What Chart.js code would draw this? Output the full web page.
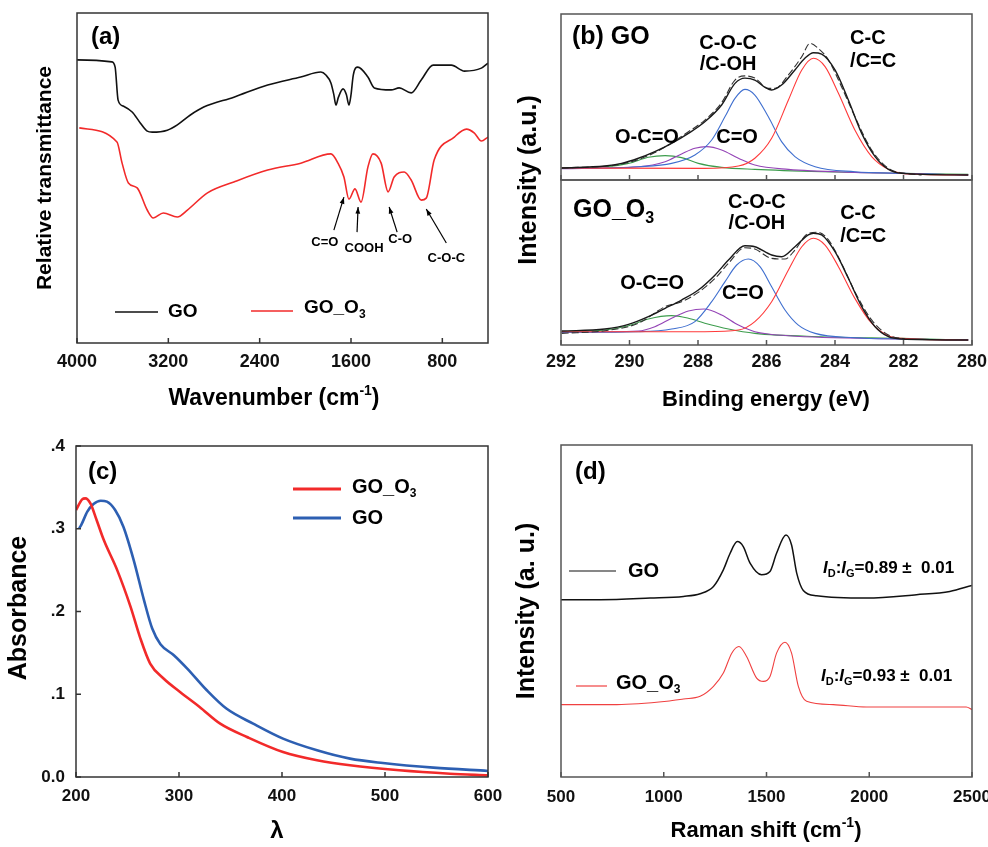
<!DOCTYPE html>
<html><head><meta charset="utf-8">
<script src="https://cdn.jsdelivr.net/npm/chart.js@4.4.0/dist/chart.umd.min.js"></script>
<style>
html,body{margin:0;padding:0;background:#fff;}
#wrap{position:relative;width:988px;height:847px;overflow:hidden;background:#fff;}
canvas{position:absolute;left:0;top:0;}
</style></head><body>
<div id="wrap">
<canvas id="ca" width="988" height="847"></canvas>
<canvas id="cbt" width="988" height="847"></canvas>
<canvas id="cbb" width="988" height="847"></canvas>
<canvas id="cc" width="988" height="847"></canvas>
<canvas id="cd" width="988" height="847"></canvas>
</div>
<script>
// ================= DATA =================
// (a) FTIR: wavenumber (cm-1) and relative transmittance (a.u.)
const A_XTICKS = [4000, 3200, 2400, 1600, 800];
const A_WN_GO = [4000,3695,3666,3640,3595,3517,3446,3385,3341,3209,3121,3007,2890,2626,2330,2040,1864,1820,1776,1750,1732,1710,1670,1640,1618,1600,1580,1540,1452,1396,1249,1178,1073,985,880,721,607,458,400];
const A_T_GO  = [85.8,85.2,83.6,73.6,71.8,70.0,66.7,64.2,63.9,64.5,66.1,69.1,71.5,74.5,78.2,80.6,82.1,81.2,78.8,75.2,72.1,74.5,77.0,75.2,72.1,75.2,81.2,83.6,80.6,77.3,76.7,77.3,75.8,79.7,84.2,84.2,82.4,83.3,84.8];
const A_WN_O3 = [3980,3650,3605,3550,3473,3385,3332,3244,3121,3033,2857,2626,2330,2040,1776,1714,1662,1618,1565,1512,1452,1408,1336,1275,1222,1134,1073,985,941,871,695,589,519,458,400];
const A_T_O3  = [65.2,60.9,54.5,48.5,47.0,40.3,37.9,39.4,38.2,40.3,45.5,48.8,52.4,54.5,57.3,54.5,50.3,43.6,46.7,42.7,53.3,57.3,54.5,45.8,50.3,51.8,49.4,43.3,43.9,55.5,62.4,64.8,63.6,61.2,62.4];

// (b) XPS C1s: binding energy (eV) and intensity (a.u.)
const B_XTICKS = [292, 290, 288, 286, 284, 282, 280];
// GO (top)
const BT_E_DATA = [291.98,290.23,289.26,288.28,287.80,287.31,286.92,286.63,286.34,285.95,285.75,285.36,284.97,284.73,284.49,284.19,283.81,283.42,282.93,282.44,281.96,281.47];
const BT_V_DATA = [7.2,9.6,16.5,29.1,36.1,46.6,60.2,62.7,61.4,55.2,55.2,63.3,74.3,82.3,79.3,72.3,56.2,38.2,18.1,7.0,4.0,3.0];
const BT_E_FIT = [291.98,290.72,290.23,289.74,289.26,288.77,288.28,287.80,287.31,286.92,286.63,286.34,286.04,285.85,285.56,285.17,284.88,284.63,284.39,284.00,283.61,283.22,282.83,282.44,282.05,280.11];
const BT_V_FIT = [7.2,8.4,10.0,13.1,17.1,22.1,28.1,35.1,45.2,58.2,61.4,60.2,55.8,54.2,57.2,66.3,73.3,76.7,75.9,66.3,48.2,28.1,14.1,6.4,4.0,3.0];
const BT_E_CC = [291.98,287.80,286.82,286.34,285.85,285.36,284.97,284.63,284.29,283.90,283.42,282.93,282.44,282.05,281.47,280.11];
const BT_V_CC = [7.2,7.0,8.4,13.1,25.1,48.2,66.3,73.3,68.3,52.2,30.1,14.1,6.4,4.0,3.4,3.0];
const BT_E_COC = [291.98,289.74,288.77,288.09,287.60,287.21,286.92,286.63,286.34,285.95,285.56,285.17,284.58,283.42,282.05,280.11];
const BT_V_COC = [7.0,8.0,10.0,15.1,24.1,38.2,49.2,54.6,51.2,38.2,23.1,14.1,8.0,5.0,4.0,3.0];
const BT_E_CO = [291.98,289.74,288.96,288.48,288.09,287.75,287.31,286.82,286.34,285.36,283.42,282.05,280.11];
const BT_V_CO = [6.8,8.0,11.0,15.7,19.1,20.1,18.1,13.1,9.0,6.4,4.6,4.0,3.0];
const BT_E_OCO = [291.98,290.72,290.03,289.45,288.96,288.48,287.99,287.31,286.34,284.39,282.05,280.11];
const BT_V_OCO = [7.2,8.0,10.0,13.7,14.7,13.5,10.0,7.6,6.4,5.0,4.0,3.4];
// GO_O3 (bottom)
const BB_E_DATA = [291.98,290.72,289.74,288.96,288.48,287.99,287.50,287.11,286.63,286.34,285.85,285.46,285.17,284.78,284.49,284.19,283.81,283.42,282.93,282.44,281.96];
const BB_V_DATA = [7.0,8.6,13.1,23.1,26.1,31.7,40.2,49.2,58.6,57.8,52.2,51.8,57.2,67.3,67.9,63.3,49.2,32.1,15.1,6.0,3.6];
const BB_E_FIT = [291.98,290.72,290.03,289.45,288.96,288.48,287.99,287.50,287.11,286.63,286.34,285.85,285.56,285.17,284.78,284.63,284.39,284.00,283.61,283.22,282.83,282.44,282.05,280.11];
const BB_V_FIT = [8.4,9.6,12.4,17.1,22.1,27.1,33.1,42.2,51.2,59.8,59.2,54.2,53.2,59.2,66.3,67.3,66.3,56.2,40.2,23.1,11.0,5.0,3.6,3.0];
const BB_E_CC = [291.98,287.80,286.82,286.34,285.85,285.36,284.97,284.63,284.29,283.90,283.42,282.93,282.44,282.05,280.11];
const BB_V_CC = [8.0,8.0,9.0,14.1,26.1,45.2,59.2,64.3,60.2,47.2,28.1,13.1,5.6,4.0,3.0];
const BB_E_COC = [291.98,289.74,288.77,288.09,287.60,287.21,286.87,286.53,286.19,285.85,285.46,285.07,284.58,283.42,282.05,280.11];
const BB_V_COC = [7.6,8.0,9.6,14.1,26.1,38.2,48.2,51.8,47.2,35.1,21.1,12.0,7.0,4.4,3.6,3.0];
const BB_E_CO = [291.98,289.74,289.26,288.77,288.28,287.82,287.31,286.82,286.34,285.36,282.05,280.11];
const BB_V_CO = [7.6,8.4,11.0,16.1,20.5,21.7,18.1,12.0,8.0,5.6,3.6,3.0];
const BB_E_OCO = [291.98,290.72,290.03,289.45,288.77,288.28,287.80,287.11,286.34,284.39,282.05,280.11];
const BB_V_OCO = [8.0,9.0,11.6,15.7,17.7,16.1,13.1,9.6,7.0,5.0,4.0,3.0];

// (c) UV-vis: wavelength and absorbance
const C_XTICKS = [200, 300, 400, 500, 600];
const C_YTICKS = [0, 0.1, 0.2, 0.3, 0.4];
const C_YTICK_LABELS = ['0.0', '.1', '.2', '.3', '.4'];
const C_L_O3 = [200,206,209,214,220,227,240,253,262,272,285,301,320,340,366,401,434,466,514,563,600];
const C_A_O3 = [0.3226,0.3355,0.3367,0.3306,0.3105,0.2863,0.25,0.2056,0.1694,0.1371,0.119,0.1028,0.0847,0.0645,0.0484,0.0302,0.0202,0.0141,0.0081,0.004,0.002];
const C_L_GO = [203,205,211,217,224,230,238,246,256,266,274,282,295,308,327,346,372,401,434,466,498,547,600];
const C_A_GO = [0.3004,0.3044,0.3206,0.3298,0.3339,0.3327,0.3226,0.3024,0.2621,0.2137,0.1794,0.1605,0.1472,0.131,0.1048,0.0827,0.0645,0.0464,0.0323,0.0222,0.0169,0.0113,0.0073];

// (d) Raman: shift (cm-1) and intensity (a.u.)
const D_XTICKS = [500, 1000, 1500, 2000, 2500];
const D_S_GO = [500,691,934,1096,1177,1242,1290,1323,1358,1387,1420,1476,1517,1549,1595,1622,1647,1679,1744,1987,2230,2392,2500];
const D_I_GO = [53.4,53.4,53.9,54.4,55.2,57.4,62.4,67.4,70.9,69.4,64.4,60.9,61.9,67.4,72.9,69.9,61.4,56.2,54.6,53.9,54.9,55.9,57.7];
const D_S_O3 = [500,772,1015,1096,1177,1242,1290,1331,1366,1403,1452,1485,1517,1549,1590,1622,1655,1695,1825,1987,2230,2472,2500];
const D_I_O3 = [21.8,21.8,22.8,23.5,24.3,27.3,31.3,37.3,39.3,36.3,29.8,28.8,30.3,37.3,40.6,37.3,27.3,22.8,21.8,21.1,21.1,21.1,20.3];

// ================= DRAWING =================
const FONT = '"Liberation Sans", Arial, Helvetica, sans-serif';
Chart.defaults.font.family = FONT;
const CW = 988, CH = 847, XH = 40;
const RED = '#f22a2a', BLUE = '#2d5fb2';
const pts = (xs, ys) => xs.map((x, i) => ({x, y: ys[i]}));

function drawRich(ctx, parts, x, y, size, align, color, rot) {
  ctx.save();
  ctx.translate(x, y);
  if (rot) ctx.rotate(-Math.PI / 2);
  ctx.fillStyle = color || '#000';
  ctx.textBaseline = 'middle'; ctx.textAlign = 'left';
  const segs = parts.map(p => {
    const [t, k] = Array.isArray(p) ? p : [p, 'n'];
    const small = k === 'sub' || k === 'sup';
    const sz = small ? Math.round(size * 0.62) : size;
    const font = (k === 'i' ? 'italic ' : '') + 'bold ' + sz + 'px ' + FONT;
    ctx.font = font;
    return {t, font, w: ctx.measureText(t).width, dy: k === 'sub' ? size * 0.33 : (k === 'sup' ? -size * 0.36 : 0)};
  });
  const tw = segs.reduce((s, g) => s + g.w, 0);
  let cx = align === 'center' ? -tw / 2 : (align === 'right' ? -tw : 0);
  for (const g of segs) { ctx.font = g.font; ctx.fillText(g.t, cx, g.dy); cx += g.w; }
  ctx.restore();
}
function frame(c, color, lw, xt, yt) {
  const {ctx, chartArea: a} = c;
  ctx.save();
  ctx.strokeStyle = color; ctx.lineWidth = lw;
  ctx.strokeRect(a.left, a.top, a.right - a.left, a.bottom - a.top);
  ctx.beginPath();
  if (xt) for (const t of c.scales.x.ticks) { const p = c.scales.x.getPixelForValue(t.value); ctx.moveTo(p, a.bottom); ctx.lineTo(p, a.bottom - 5); }
  if (yt) for (const t of c.scales.y.ticks) { const p = c.scales.y.getPixelForValue(t.value); ctx.moveTo(a.left, p); ctx.lineTo(a.left + 5, p); }
  ctx.stroke();
  ctx.restore();
}
function seg(ctx, x1, y1, x2, y2, color, lw) {
  ctx.save(); ctx.strokeStyle = color; ctx.lineWidth = lw;
  ctx.beginPath(); ctx.moveTo(x1, y1); ctx.lineTo(x2, y2); ctx.stroke(); ctx.restore();
}
function arrow(ctx, x1, y1, x2, y2) {
  seg(ctx, x1, y1, x2, y2, '#000', 1.2);
  const ang = Math.atan2(y2 - y1, x2 - x1), h = 7;
  ctx.save(); ctx.fillStyle = '#000'; ctx.beginPath();
  ctx.moveTo(x2, y2);
  ctx.lineTo(x2 - h * Math.cos(ang - 0.35), y2 - h * Math.sin(ang - 0.35));
  ctx.lineTo(x2 - h * Math.cos(ang + 0.35), y2 - h * Math.sin(ang + 0.35));
  ctx.closePath(); ctx.fill(); ctx.restore();
}
function xAxis(min, max, ticks, o) {
  o = o || {};
  return {type: 'linear', min, max, reverse: !!o.reverse,
    grid: {display: false, drawTicks: false}, border: {display: false},
    ticks: {display: o.show !== false, autoSkip: false, maxRotation: 0, minRotation: 0,
      padding: (o.pad === undefined ? 8 : o.pad), color: '#111',
      font: {size: o.size || 18, weight: 'bold', family: FONT},
      callback: (v, i) => (o.labels ? o.labels[i] : String(v))},
    afterBuildTicks: s => { s.ticks = ticks.map(v => ({value: v})); },
    afterFit: s => { s.height = XH; s.paddingLeft = 0; s.paddingRight = 0; }};
}
function yAxis(min, max, ticks, o) {
  o = o || {};
  const w = o.width || 30;
  return {type: 'linear', min, max,
    grid: {display: false, drawTicks: false}, border: {display: false},
    ticks: {display: o.show === true, autoSkip: false, padding: (o.pad === undefined ? 10 : o.pad), color: '#111',
      font: {size: o.size || 18, weight: 'bold', family: FONT},
      callback: (v, i) => (o.labels ? o.labels[i] : String(v))},
    afterBuildTicks: s => { s.ticks = (ticks || []).map(v => ({value: v})); },
    afterFit: s => { s.width = w; s.paddingTop = 0; s.paddingBottom = 0; }};
}
function makeChart(id, area, xs, ys, datasets, deco) {
  const yw = ys._w || 30;
  return new Chart(document.getElementById(id), {
    type: 'line',
    data: {datasets},
    options: {
      responsive: false, animation: false, devicePixelRatio: 1, events: [],
      layout: {autoPadding: false, padding: {left: area.L - yw, top: area.T, right: CW - area.R, bottom: CH - area.B - XH}},
      plugins: {legend: {display: false}, tooltip: {enabled: false}},
      elements: {point: {radius: 0}, line: {cubicInterpolationMode: 'monotone', fill: false}},
      scales: {x: xs, y: ys}
    },
    plugins: [{id: 'deco_' + id, afterDraw: deco}]
  });
}
const line = (xs, ys, color, w, extra) => Object.assign({data: pts(xs, ys), borderColor: color, borderWidth: w}, extra || {});

// ---------- (a) ----------
const ANN_A = [
  {t: 'C=O',   x: 1829, y: 30.6, x1: 1750, y1: 34.2, x2: 1662, y2: 44.2},
  {t: 'COOH',  x: 1486, y: 28.8, x1: 1547, y1: 33.6, x2: 1538, y2: 41.2},
  {t: 'C-O',   x: 1169, y: 31.5, x1: 1196, y1: 33.6, x2: 1266, y2: 41.2},
  {t: 'C-O-C', x: 765,  y: 25.5, x1: 765,  y1: 30.3, x2: 941,  y2: 40.6}
];
makeChart('ca', {L: 77, T: 13, R: 488, B: 343},
  xAxis(400, 4000, A_XTICKS, {reverse: true, pad: 8}),
  yAxis(0, 100, []),
  [line(A_WN_GO, A_T_GO, '#111', 1.6), line(A_WN_O3, A_T_O3, RED, 1.6)],
  c => {
    const ctx = c.ctx, X = c.scales.x, Y = c.scales.y;
    frame(c, '#333', 1.5, true, false);
    drawRich(ctx, ['(a)'], 91, 37, 24, 'left');
    drawRich(ctx, ['Wavenumber (cm', ['-1', 'sup'], ')'], 274, 399, 23, 'center');
    drawRich(ctx, ['Relative transmittance'], 45.5, 178, 21, 'center', '#000', true);
    seg(ctx, 115, 312, 158, 312, '#111', 1.6);
    drawRich(ctx, ['GO'], 168, 312, 19, 'left');
    seg(ctx, 251, 311, 293, 311, RED, 1.6);
    drawRich(ctx, ['GO_O', ['3', 'sub']], 304, 308, 19, 'left');
    for (const a of ANN_A) {
      drawRich(ctx, [a.t], X.getPixelForValue(a.x), Y.getPixelForValue(a.y), 13, 'center');
      arrow(ctx, X.getPixelForValue(a.x1), Y.getPixelForValue(a.y1), X.getPixelForValue(a.x2), Y.getPixelForValue(a.y2));
    }
  });

// ---------- (b) ----------
const GREEN = '#3c9c4c', PURPLE = '#9444b6', BBLUE = '#3f6fcf', BRED = '#ff3a3a';
function bSets(eD, vD, eF, vF, eCC, vCC, eCOC, vCOC, eCO, vCO, eOCO, vOCO) {
  return [
    line(eF, vF, '#1a1a1a', 1.4),
    line(eD, vD, '#333', 1.1, {borderDash: [7, 3]}),
    line(eCC, vCC, BRED, 1.1),
    line(eCOC, vCOC, BBLUE, 1.1),
    line(eCO, vCO, PURPLE, 1.1),
    line(eOCO, vOCO, GREEN, 1.1)
  ];
}
function bLabels(c, list) {
  const X = c.scales.x, Y = c.scales.y;
  for (const l of list) drawRich(c.ctx, [l.t], X.getPixelForValue(l.x), Y.getPixelForValue(l.y), 20, l.a);
}
makeChart('cbt', {L: 561, T: 14, R: 972, B: 180},
  xAxis(280, 292, B_XTICKS, {reverse: true, show: false}),
  yAxis(0, 100, []),
  bSets(BT_E_DATA, BT_V_DATA, BT_E_FIT, BT_V_FIT, BT_E_CC, BT_V_CC, BT_E_COC, BT_V_COC, BT_E_CO, BT_V_CO, BT_E_OCO, BT_V_OCO),
  c => {
    frame(c, '#555', 1.5, true, false);
    drawRich(c.ctx, ['(b) GO'], 572, 37, 25, 'left');
    bLabels(c, [
      {t: 'C-O-C', x: 287.12, y: 82.5, a: 'center'}, {t: '/C-OH', x: 287.12, y: 69.3, a: 'center'},
      {t: 'C-C', x: 283.56, y: 85.5, a: 'left'}, {t: '/C=C', x: 283.56, y: 71.1, a: 'left'},
      {t: 'O-C=O', x: 289.49, y: 25.9, a: 'center'}, {t: 'C=O', x: 286.86, y: 25.9, a: 'center'}
    ]);
  });
makeChart('cbb', {L: 561, T: 180, R: 972, B: 345},
  xAxis(280, 292, B_XTICKS, {reverse: true, pad: 6}),
  yAxis(0, 99.4, []),
  bSets(BB_E_DATA, BB_V_DATA, BB_E_FIT, BB_V_FIT, BB_E_CC, BB_V_CC, BB_E_COC, BB_V_COC, BB_E_CO, BB_V_CO, BB_E_OCO, BB_V_OCO),
  c => {
    frame(c, '#555', 1.5, true, false);
    drawRich(c.ctx, ['GO_O', ['3', 'sub']], 573, 210, 25, 'left');
    bLabels(c, [
      {t: 'C-O-C', x: 286.28, y: 86.1, a: 'center'}, {t: '/C-OH', x: 286.28, y: 73.5, a: 'center'},
      {t: 'C-C', x: 283.85, y: 79.5, a: 'left'}, {t: '/C=C', x: 283.85, y: 65.1, a: 'left'},
      {t: 'O-C=O', x: 289.34, y: 37.3, a: 'center'}, {t: 'C=O', x: 286.69, y: 31.3, a: 'center'}
    ]);
    drawRich(c.ctx, ['Intensity (a.u.)'], 529, 180, 25, 'center', '#000', true);
    drawRich(c.ctx, ['Binding energy (eV)'], 766, 400, 22, 'center');
  });

// ---------- (c) ----------
const yC = yAxis(0, 0.4, C_YTICKS, {show: true, labels: C_YTICK_LABELS, pad: 11, size: 17, width: 60});
yC._w = 60;
makeChart('cc', {L: 76, T: 446, R: 488, B: 777},
  xAxis(200, 600, C_XTICKS, {pad: 9, size: 17}),
  yC,
  [line(C_L_O3, C_A_O3, RED, 2.6), line(C_L_GO, C_A_GO, BLUE, 2.6)],
  c => {
    const ctx = c.ctx;
    frame(c, '#333', 1.5, true, true);
    drawRich(ctx, ['(c)'], 88, 472, 24, 'left');
    drawRich(ctx, ['Absorbance'], 19, 608, 25, 'center', '#000', true);
    drawRich(ctx, ['λ'], 277, 831, 24, 'center');
    seg(ctx, 293, 489, 341, 489, RED, 3);
    drawRich(ctx, ['GO_O', ['3', 'sub']], 352, 487, 20, 'left');
    seg(ctx, 293, 518, 341, 518, BLUE, 3);
    drawRich(ctx, ['GO'], 352, 518, 20, 'left');
  });

// ---------- (d) ----------
makeChart('cd', {L: 561, T: 445, R: 972, B: 777},
  xAxis(500, 2500, D_XTICKS, {pad: 10, size: 17}),
  yAxis(0, 100, []),
  [line(D_S_GO, D_I_GO, '#111', 1.5), line(D_S_O3, D_I_O3, '#f04040', 1.1)],
  c => {
    const ctx = c.ctx;
    frame(c, '#555', 1.5, true, false);
    drawRich(ctx, ['(d)'], 575, 472, 24, 'left');
    drawRich(ctx, ['Intensity (a. u.)'], 527.5, 611, 25, 'center', '#000', true);
    drawRich(ctx, ['Raman shift (cm', ['-1', 'sup'], ')'], 766, 831, 22, 'center');
    seg(ctx, 569, 571, 616, 571, '#111', 1.2);
    drawRich(ctx, ['GO'], 628, 571, 20, 'left');
    seg(ctx, 576, 686, 607, 686, '#f04040', 1.2);
    drawRich(ctx, ['GO_O', ['3', 'sub']], 616, 683, 20, 'left');
    drawRich(ctx, [['I', 'i'], ['D', 'sub'], ':', ['I', 'i'], ['G', 'sub'], '=0.89 \u00B1  0.01'], 823, 568, 17, 'left');
    drawRich(ctx, [['I', 'i'], ['D', 'sub'], ':', ['I', 'i'], ['G', 'sub'], '=0.93 \u00B1  0.01'], 821, 676, 17, 'left');
  });
</script>
</body></html>
